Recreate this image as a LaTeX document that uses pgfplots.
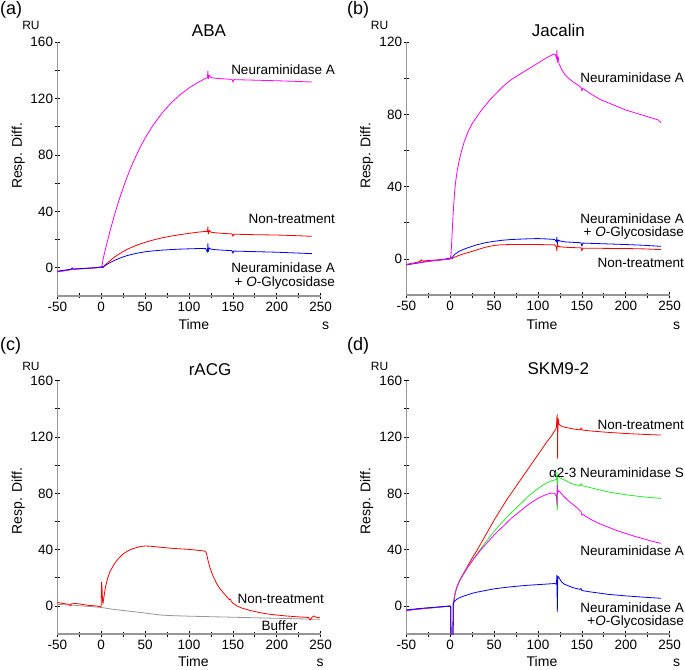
\documentclass[border=0pt]{standalone}
\usepackage{fontspec}
\setmainfont{Liberation Sans}
\usepackage{pgfplots}
\pgfplotsset{compat=1.18}

\definecolor{nmag}{RGB}{255,0,255}
\definecolor{nred}{RGB}{255,0,0}
\definecolor{nblue}{RGB}{0,0,255}
\definecolor{ngreen}{RGB}{40,235,40}
\definecolor{nbuf}{RGB}{150,150,150}
\definecolor{axgray}{RGB}{150,150,150}

\pgfplotsset{
  spr/.style={
    scale only axis, anchor=south west,
    width=263.4pt, height=253.5pt,
    axis lines=left, axis line style={-, draw=axgray, line width=1.6pt},
    xmin=-50, xmax=250, ymin=-20,
    xtick={-50,0,...,250}, minor x tick num=1, minor y tick num=1,
    tick align=center, major tick length=5.5pt, minor tick length=5pt,
    every tick/.style={black, line width=0.8pt},
    tick label style={font=\fontsize{13.5}{13.5}\selectfont},
    yticklabel style={xshift=2pt},
    /pgf/number format/assume math mode=true,
    every axis plot/.append style={line width=0.8pt, no markers, line join=round},
  },
}
\newcommand{\lab}{\fontsize{13.5}{15}\selectfont}

\begin{document}
\begin{tikzpicture}
\useasboundingbox (0pt,0pt) rectangle (685pt,669pt);

% (a) ABA
\begin{axis}[spr, at={(57.3pt,373.1pt)}, height=253.6pt, ymax=160, ytick={0,40,...,160}]
\addplot[nred] coordinates {(-50,-2.8)(-45,-2.3)(-40,-1.8)(-34,-1.2)(-33,-0.4)(-32,-1.1)(-25,-0.8)(-20,-0.6)(-10,-0.2)(-5,0)(0,0.4)(3,1)(5,2.3)(10,5)(15,7.5)(20,9.6)(25,11.5)(30,13.2)(40,15.9)(50,18)(60,19.8)(70,21.3)(80,22.5)(90,23.5)(100,24.4)(110,25.2)(119,25.8)(121,25.5)(121.5,29)(122,24)(123,26.5)(125,25.2)(130,24.8)(140,24.3)(149,24)(150,22.3)(151,23.8)(170,23.5)(200,23.2)(220,22.8)(240,22.3)};
\addplot[nmag] coordinates {(-50,-3)(-45,-2.5)(-40,-2)(-34,-1.3)(-33,-0.6)(-32,-1.2)(-25,-0.8)(-20,-0.6)(-10,-0.3)(-5,0)(0,0.5)(1,1.5)(2,5.6)(5,13.6)(10,25.9)(15,37.2)(20,47.4)(25,56.7)(30,65.2)(35,72.9)(40,79.8)(45,86.2)(50,92)(60,102)(70,110.3)(80,117.2)(90,122.9)(100,127.6)(110,131.4)(119,134.5)(121,134.8)(121.5,139.5)(122,134)(123,136.5)(125,135)(130,134.5)(140,134)(149,133.7)(150,131.8)(151,133.5)(170,133.2)(200,132.7)(220,132.3)(240,131.8)};
\addplot[nblue] coordinates {(-50,-2.4)(-45,-2)(-40,-1.6)(-34,-1)(-33,-0.2)(-32,-0.9)(-25,-0.7)(-20,-0.5)(-10,-0.1)(-5,0.1)(0,0.6)(1,0.2)(2,0)(3,0.8)(5,1.8)(10,3.6)(15,5.2)(20,6.5)(25,7.7)(30,8.7)(40,10.2)(50,11.3)(60,12)(70,12.5)(80,12.9)(90,13.2)(100,13.4)(110,13.6)(119,13.6)(121,11)(121.5,17)(122,11.5)(123,14)(125,13.2)(130,12.8)(140,12.4)(149,12.1)(150,10.3)(151,11.8)(170,11.5)(200,11)(220,10.5)(240,10)};
\end{axis}

% (b) Jacalin
\begin{axis}[spr, at={(406.3pt,373.9pt)}, height=252.8pt, ymax=120, ytick={0,40,...,120}]
\addplot[nred] coordinates {(-50,-3)(-40,-2.1)(-34,-1.3)(-33,-0.4)(-32,-1.1)(-20,-0.7)(-10,-0.3)(0,0)(2,0.2)(5,1)(10,2)(15,2.8)(20,3.5)(25,4.2)(30,5)(40,6.5)(50,7.5)(60,7.9)(70,8)(80,8)(90,8)(100,8)(110,7.9)(119,7.8)(121,6.5)(121.5,4.5)(122,8.5)(123,7)(125,6.8)(130,6.5)(140,6.3)(149,6.2)(150,4.5)(151,6)(170,5.9)(200,5.8)(220,5.6)(240,5.2)};
\addplot[nblue] coordinates {(-50,-3.3)(-40,-2.5)(-30,-1.7)(-20,-1)(-10,-0.5)(0,0.5)(2,0.8)(5,2.5)(10,4.2)(15,5.3)(20,6.2)(25,7)(30,7.8)(40,9)(50,9.8)(60,10.4)(70,10.8)(80,11)(90,11.2)(100,11.3)(110,11.1)(119,10.8)(121,9.5)(121.5,12)(122,8.5)(123,10.5)(125,10)(130,9.5)(140,9.2)(149,9)(150,7)(151,8.8)(170,8.5)(200,8)(220,7.6)(240,7)};
\addplot[nmag] coordinates {(-50,-3.1)(-40,-2.3)(-30,-1.6)(-20,-1)(-10,-0.5)(0,0)(1,3)(2,12)(3,22)(4,30)(5,37)(6,42)(8,49)(10,54)(13,60)(16,65)(20,70)(25,75)(30,78.5)(35,82)(40,85)(45,88)(50,90.5)(55,93)(60,95.5)(65,97.5)(70,99.5)(80,102.5)(90,105.5)(100,108.5)(110,111.5)(118,113.5)(120,113)(121,111)(121.5,115.5)(122,109)(123,112)(124,108)(127,105)(130,102.5)(135,100)(140,98)(145,96.5)(149,95)(150,93)(151,94.5)(160,91.5)(170,88.5)(180,86.5)(190,84.5)(200,82.5)(210,81)(220,79.5)(230,78)(237,77)(240,75.5)};
\end{axis}

% (c) rACG
\begin{axis}[spr, at={(57.3pt,34.8pt)}, ymax=160, ytick={0,40,...,160}]
\addplot[nbuf] coordinates {(-50,1.2)(-40,0.8)(-30,0.5)(-20,0)(-10,-0.5)(0,-1)(10,-2)(20,-2.8)(30,-3.5)(40,-4.2)(50,-5)(60,-5.8)(70,-6.5)(80,-6.8)(90,-7)(100,-7.2)(120,-7.5)(140,-7.8)(160,-8.1)(180,-8.4)(200,-8.7)(220,-9)(240,-9.3)(249,-9.4)};
\addplot[nred] coordinates {(-50,2.5)(-45,2)(-40,1.5)(-36,1.2)(-35,0)(-34,1.5)(-30,1.8)(-25,1.5)(-20,1)(-15,0.5)(-10,0.3)(-5,0)(-1,-0.5)(0,0)(0.5,17)(1,12)(1.5,4)(2,1.5)(3,6)(5,14)(7.5,20)(10,24.5)(15,30)(20,34)(25,37)(30,39)(35,40.5)(40,41.5)(45,42.3)(50,42.6)(55,42.5)(60,42.2)(70,41.6)(80,41)(90,40.6)(100,40.2)(110,39.6)(118,39)(119,38.5)(120,37)(122,31.5)(124,27)(126,23.5)(128,20.5)(131.5,16)(135,12.5)(140,8.8)(143,6.6)(146,4.5)(147,5)(148,3.5)(150,2)(155,0)(160,-1.4)(170,-3.2)(180,-4.6)(190,-5.7)(200,-6.4)(210,-7)(220,-7.5)(230,-7.9)(236,-8.1)(238,-10)(240,-8)(242,-7)(245,-8)(249,-8.3)};
\end{axis}

% (d) SKM9-2
\begin{axis}[spr, at={(406.3pt,34.8pt)}, ymax=160, ytick={0,40,...,160}]
\addplot[nred] coordinates {(-50,-3)(-40,-2.3)(-30,-1.7)(-20,-1.2)(-10,-0.6)(0,0)(0.5,-1)(1,-30)(3,-30)(3.6,1.9)(4,3)(5,7)(6,10)(8,14)(10,17)(12,19.5)(15,23)(20,28.5)(25,34)(30,39)(35,44.5)(40,50)(45,55.5)(50,61)(55,66)(60,71)(65,76)(70,80.5)(75,85)(80,89.5)(85,94)(90,98.5)(95,103)(100,107.5)(105,112)(110,116.5)(115,120.5)(119,124.5)(120,125.5)(121,127)(121.5,134)(122,136)(122.3,105)(122.7,130)(123,133)(124,129)(126,128)(130,127)(140,125.8)(148,125)(149,126.5)(150,125)(160,124.3)(180,123.3)(200,122.5)(220,121.9)(240,121.4)};
\addplot[ngreen] coordinates {(-50,-3)(-40,-2.3)(-30,-1.7)(-20,-1.2)(-10,-0.6)(0,0)(0.5,-1)(1,-30)(3,-30)(3.6,1.9)(4,3)(5,7)(6,10)(8,14)(10,17)(12,19.5)(15,22.5)(20,27.5)(25,32)(30,36.5)(35,41)(40,45)(45,49)(50,53)(55,56.5)(60,60)(65,63.5)(70,66.5)(75,69.5)(80,72.5)(85,75.5)(90,78.5)(95,81)(100,83.5)(105,85.5)(110,87.5)(115,88.8)(119,89.5)(121,90)(121.5,95)(122,68)(122.5,92)(123,93)(125,91)(130,89.5)(140,86.5)(148,85.5)(149,87)(150,85.5)(160,84)(180,81)(200,79)(220,77.5)(240,76.4)};
\addplot[nmag] coordinates {(-50,-3.3)(-40,-2.5)(-30,-1.8)(-20,-1.2)(-10,-0.6)(0,0)(0.5,-1)(1,-30)(3,-30)(3.6,1.9)(4,3)(5,7)(6,10)(8,14)(10,17)(12,19.5)(15,22.5)(20,27.5)(25,32)(30,36)(35,40)(40,43.5)(45,47)(50,50.5)(55,53.5)(60,56.5)(65,59.5)(70,62.5)(75,65)(80,67.5)(85,70)(90,72.5)(95,74.5)(100,76.5)(105,78)(110,79.3)(115,80.2)(119,80)(121,78)(121.5,72)(122,86)(122.5,80)(123,82)(125,81)(130,77.5)(135,74.5)(140,72)(145,69.5)(149,67)(150,64.5)(151,65)(160,61.5)(170,58.5)(180,56)(190,53.5)(200,51.5)(210,49.5)(220,47.8)(230,46)(240,44.5)};
\addplot[nblue] coordinates {(-50,-2.8)(-40,-2.1)(-30,-1.5)(-20,-1)(-10,-0.5)(0,0)(0.5,-1)(1,-30)(3,-30)(3.6,1.9)(5,3.5)(7.5,4.8)(10,5.7)(15,7)(20,8)(25,9)(30,9.8)(40,11)(50,12.2)(60,13)(70,13.7)(80,14.3)(90,14.8)(100,15.2)(110,15.6)(119,16)(121,15.5)(121.5,22)(122,-4)(122.5,20)(123,21)(125,19)(127,17)(130,15.5)(140,13)(148,11.8)(149,12.5)(150,11)(160,10)(180,8.3)(200,7.2)(220,6.3)(240,5.5)};
\end{axis}

\begin{scope}[x=1pt,y=1pt]
% panel letters
\foreach \p/\xx/\yy in {(a)/0/659,(b)/347/659,(c)/0/323,(d)/347/323}
  \node[anchor=west, inner sep=0pt, font=\fontsize{18}{18}\selectfont] at (\xx,\yy) {\p};
% RU
\foreach \xx/\yy in {31/643.5,379.5/644,31/303,379.5/303}
  \node[inner sep=0pt, font=\fontsize{12}{12}\selectfont] at (\xx,\yy) {RU};
% titles
\node[inner sep=0pt, font=\fontsize{17}{17}\selectfont] at (209,638) {ABA};
\node[inner sep=0pt, font=\fontsize{17}{17}\selectfont] at (558.3,639) {Jacalin};
\node[inner sep=0pt, font=\fontsize{17}{17}\selectfont] at (210,299.7) {rACG};
\node[inner sep=0pt, font=\fontsize{17}{17}\selectfont] at (558.3,300) {SKM9-2};
% y labels
\foreach \xx/\yy in {18.3/513.2,366.7/513.2,18.3/168,366.7/168}
  \node[rotate=90, inner sep=0pt, font=\fontsize{14}{14}\selectfont] at (\xx,\yy) {Resp. Diff.};
% x labels
\foreach \xx/\yy in {193.8/339.5,542/339.5,193.3/2,542/2}
  \node[anchor=base, inner sep=0pt, font=\fontsize{14}{14}\selectfont] at (\xx,\yy) {Time};
\foreach \xx/\yy in {325.5/339.5,676.7/339.5,320/2,676.7/2}
  \node[anchor=base, inner sep=0pt, font=\fontsize{14}{14}\selectfont] at (\xx,\yy) {s};
% curve labels (a)
\node[anchor=base east, inner sep=0pt, font=\lab] at (335,594) {Neuraminidase A};
\node[anchor=base east, inner sep=0pt, font=\lab] at (335,445) {Non-treatment};
\node[anchor=base east, inner sep=0pt, font=\lab] at (335,396.3) {Neuraminidase A};
\node[anchor=base east, inner sep=0pt, font=\lab] at (335,382.3) {+ \textit{O}-Glycosidase};
% (b)
\node[anchor=base east, inner sep=0pt, font=\lab] at (684,586.3) {Neuraminidase A};
\node[anchor=base east, inner sep=0pt, font=\lab] at (684,445.7) {Neuraminidase A};
\node[anchor=base east, inner sep=0pt, font=\lab] at (684,432) {+ \textit{O}-Glycosidase};
\node[anchor=base east, inner sep=0pt, font=\lab] at (684,401.3) {Non-treatment};
% (c)
\node[anchor=base east, inner sep=0pt, font=\lab] at (324,65.3) {Non-treatment};
\node[anchor=base east, inner sep=0pt, font=\lab] at (297.7,38) {Buffer};
% (d)
\node[anchor=base east, inner sep=0pt, font=\lab] at (684,239.7) {Non-treatment};
\node[anchor=base east, inner sep=0pt, font=\lab] at (684,191.3) {α2-3 Neuraminidase S};
\node[anchor=base east, inner sep=0pt, font=\lab] at (684,113) {Neuraminidase A};
\node[anchor=base east, inner sep=0pt, font=\lab] at (684,56.3) {Neuraminidase A};
\node[anchor=base east, inner sep=0pt, font=\lab] at (684,43) {+\textit{O}-Glycosidase};
\end{scope}
\end{tikzpicture}
\end{document}
